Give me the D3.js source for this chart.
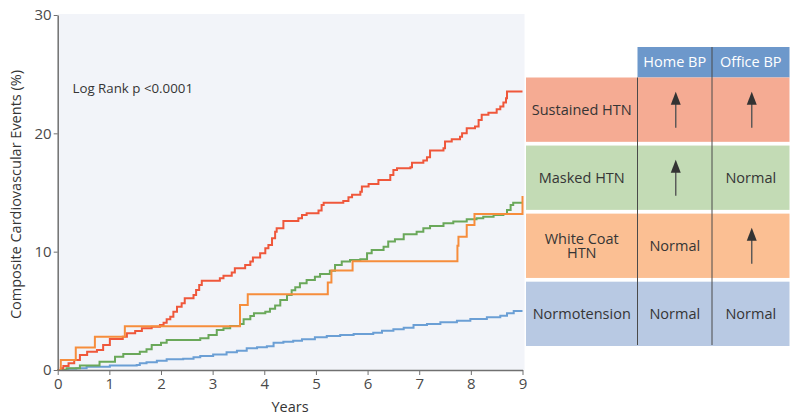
<!DOCTYPE html>
<html>
<head>
<meta charset="utf-8">
<script src="https://cdn.jsdelivr.net/npm/d3@7"></script>
<style>
  html, body { margin: 0; padding: 0; background: #fff; }
  svg { display: block; font-family: "Open Sans", "Noto Sans", sans-serif; }
</style>
</head>
<body>
<svg id="chart" width="799" height="419"></svg>
<script>
// ---- Data ----
const yTicks = [0, 10, 20, 30];
const xTicks = [0, 1, 2, 3, 4, 5, 6, 7, 8, 9];

const sustainedHTN = [[0,0],[0.06,0.15],[0.11,0.34],[0.21,0.56],[0.32,0.85],[0.43,1.27],[0.57,1.55],[0.76,1.69],[0.88,2.11],[1.01,2.62],[1.26,2.82],[1.34,3.1],[1.5,3.3],[1.63,3.52],[1.82,3.66],[1.98,3.8],[2.05,4.0],[2.11,4.28],[2.18,4.5],[2.24,4.93],[2.31,5.35],[2.4,5.64],[2.46,6.06],[2.63,6.34],[2.68,6.76],[2.74,7.18],[2.79,7.55],[3.14,7.75],[3.21,7.97],[3.37,8.23],[3.43,8.6],[3.63,8.88],[3.73,9.16],[3.78,9.5],[3.92,9.86],[4.02,10.29],[4.08,10.57],[4.15,11.13],[4.21,11.69],[4.24,11.98],[4.37,12.6],[4.66,12.82],[4.73,13.1],[4.82,13.25],[5.05,13.47],[5.11,13.95],[5.15,14.14],[5.53,14.29],[5.63,14.6],[5.7,14.8],[5.86,15.07],[5.89,15.5],[6.02,15.72],[6.21,16.06],[6.44,16.48],[6.5,16.9],[6.57,17.05],[6.83,17.13],[6.86,17.52],[7.08,17.7],[7.15,17.98],[7.21,18.54],[7.47,18.74],[7.5,19.3],[7.63,19.5],[7.79,19.72],[7.83,20.0],[7.92,20.43],[8.08,20.57],[8.15,21.13],[8.21,21.56],[8.34,21.75],[8.5,22.04],[8.57,22.26],[8.63,22.6],[8.68,22.97],[8.7,23.53],[9.0,23.53]];

const whiteCoatHTN = [[0,0],[0.06,0.85],[0.35,1.9],[0.72,2.8],[1.3,3.7],[3.53,5.5],[3.68,6.4],[5.23,7.4],[5.3,8.4],[5.71,9.2],[7.74,10.5],[7.76,11.27],[7.92,12.26],[8.07,13.19],[9.0,14.7]];

const maskedHTN = [[0,0],[0.17,0.14],[0.43,0.37],[0.81,0.7],[1.11,1.13],[1.27,1.35],[1.59,1.55],[1.72,1.75],[1.82,2.11],[2.0,2.31],[2.11,2.54],[2.76,2.68],[2.92,2.96],[3.08,3.38],[3.21,3.52],[3.34,3.72],[3.53,3.89],[3.6,4.28],[3.73,4.56],[3.8,4.79],[4.02,4.93],[4.11,5.17],[4.21,5.45],[4.31,5.92],[4.44,6.34],[4.53,6.75],[4.6,6.99],[4.69,7.33],[4.82,7.61],[4.98,7.89],[5.08,8.11],[5.27,8.39],[5.37,8.88],[5.5,9.16],[5.66,9.3],[5.86,9.36],[5.99,9.86],[6.08,10.14],[6.31,10.42],[6.4,10.85],[6.53,11.05],[6.7,11.47],[6.95,11.69],[7.08,11.98],[7.21,12.17],[7.47,12.4],[7.66,12.54],[7.92,12.74],[8.11,12.82],[8.24,12.96],[8.44,13.1],[8.63,13.19],[8.7,13.53],[8.77,13.95],[8.82,14.14],[9.0,14.14]];

const normotension = [[0,0],[0.2,0.1],[0.36,0.14],[0.56,0.28],[1.01,0.37],[1.53,0.42],[1.59,0.56],[1.72,0.65],[1.92,0.79],[2.11,0.9],[2.43,0.96],[2.63,1.07],[2.76,1.18],[3.01,1.32],[3.27,1.49],[3.47,1.63],[3.66,1.83],[3.86,1.92],[4.05,2.0],[4.18,2.31],[4.37,2.39],[4.56,2.48],[4.73,2.59],[4.98,2.76],[5.21,2.87],[5.47,2.96],[5.73,3.04],[6.11,3.15],[6.28,3.32],[6.5,3.44],[6.7,3.58],[6.89,3.8],[7.15,3.89],[7.41,4.03],[7.73,4.17],[7.99,4.31],[8.31,4.45],[8.57,4.59],[8.7,4.79],[8.83,4.99],[9.0,4.99]];

// Legend table
const groups = ["Sustained HTN", "Masked HTN", "White Coat HTN", "Normotension"];
const groupLines = [["Sustained HTN"], ["Masked HTN"], ["White Coat", "HTN"], ["Normotension"]];
const columns = ["Home BP", "Office BP"];
const homeBP = ["up", "up", "Normal", "Normal"];
const officeBP = ["up", "Normal", "up", "Normal"];

// ---- Styles ----
const lineColors = { sustained: "#ef573b", white: "#f68d3c", masked: "#6aa85a", normo: "#6b9fd5" };
const rowColors = ["#f5ab93", "#c3dbb5", "#fbbf93", "#b8c9e3"];
const headerColor = "#6d98cb";
const textColor = "#353535";

const svg = d3.select("#chart");

const x = d3.scaleLinear().domain([0, 9]).range([57.7, 522.5]);
const y = d3.scaleLinear().domain([0, 30]).range([370, 15]);

// plot background
svg.append("rect")
  .attr("x", x(0)).attr("y", y(30) - 1)
  .attr("width", 524.5 - x(0)).attr("height", y(0) - y(30) + 1)
  .attr("fill", "#f2f4f9");

// lines
const line = d3.line().x(d => x(d[0])).y(d => y(d[1])).curve(d3.curveStepAfter);
const series = [
  { data: normotension, color: lineColors.normo },
  { data: maskedHTN, color: lineColors.masked },
  { data: sustainedHTN, color: lineColors.sustained },
  { data: whiteCoatHTN, color: lineColors.white }
];
svg.append("g").selectAll("path").data(series).join("path")
  .attr("d", d => line(d.data))
  .attr("fill", "none")
  .attr("stroke", d => d.color)
  .attr("stroke-width", 2)
  .attr("stroke-linejoin", "miter");

// axes
const axisColor = "#707070";
const gy = svg.append("g").attr("transform", `translate(${x(0)},0)`)
  .call(d3.axisLeft(y).tickValues(yTicks).tickSize(4).tickPadding(2).tickSizeOuter(0));
const gx = svg.append("g").attr("transform", `translate(0,${y(0)})`)
  .call(d3.axisBottom(x).tickValues(xTicks).tickSize(5).tickPadding(3).tickSizeOuter(0));
[gx, gy].forEach(g => {
  g.select(".domain").attr("stroke", axisColor).attr("stroke-width", 1.5);
  g.selectAll(".tick line").attr("stroke", axisColor);
  g.selectAll(".tick text").attr("fill", "#4a4a4a")
    .style("font-size", "15px").style("font-family", "'Open Sans', sans-serif");
});

// axis titles
svg.append("text")
  .attr("transform", `translate(21,${(y(0) + y(30)) / 2 + 2}) rotate(-90)`)
  .attr("text-anchor", "middle")
  .attr("fill", textColor)
  .style("font-size", "14.5px")
  .text("Composite Cardiovascular Events (%)");
svg.append("text")
  .attr("x", 290).attr("y", 412)
  .attr("text-anchor", "middle")
  .attr("fill", textColor)
  .style("font-size", "14.5px")
  .text("Years");

svg.append("text")
  .attr("x", 72.5).attr("y", 93)
  .attr("fill", textColor)
  .style("font-size", "13.3px")
  .text("Log Rank p <0.0001");

// ---- Legend table ----
const colX = [526, 637.5, 712, 789.5];  // boundaries: label | home | office
const headerTop = 47, headerBottom = 77.5;
const rowBand = d3.scaleBand().domain(groups).range([77.5, 346]).paddingInner(0.055).paddingOuter(0);
const table = svg.append("g");

// header cells
columns.forEach((c, i) => {
  table.append("rect")
    .attr("x", colX[i + 1]).attr("y", headerTop)
    .attr("width", colX[i + 2] - colX[i + 1]).attr("height", headerBottom - headerTop)
    .attr("fill", headerColor);
  table.append("text")
    .attr("x", (colX[i + 1] + colX[i + 2]) / 2).attr("y", (headerTop + headerBottom) / 2)
    .attr("dy", "0.36em").attr("text-anchor", "middle")
    .attr("fill", "#fff").style("font-size", "14.5px")
    .text(c);
});

// rows
groups.forEach((g, i) => {
  const y0 = rowBand(g), h = rowBand.bandwidth();
  table.append("rect")
    .attr("x", colX[0]).attr("y", y0)
    .attr("width", colX[3] - colX[0]).attr("height", h)
    .attr("fill", rowColors[i]);
  const cy = y0 + h / 2;
  const words = groupLines[i];
  const lh = 14;
  words.forEach((w, k) => {
    table.append("text")
      .attr("x", (colX[0] + colX[1]) / 2)
      .attr("y", cy + (k - (words.length - 1) / 2) * lh)
      .attr("dy", "0.36em")
      .attr("text-anchor", "middle").attr("fill", textColor)
      .style("font-size", "14.5px")
      .text(w);
  });
  [homeBP[i], officeBP[i]].forEach((v, j) => {
    const cx = (colX[j + 1] + colX[j + 2]) / 2 + 1;
    if (v === "up") {
      const top = cy - 18, bottom = cy + 18;
      table.append("line")
        .attr("x1", cx).attr("x2", cx).attr("y1", top + 11).attr("y2", bottom)
        .attr("stroke", "#555").attr("stroke-width", 1.4);
      table.append("path")
        .attr("d", `M${cx},${top} L${cx - 5},${top + 13} L${cx + 5},${top + 13} Z`)
        .attr("fill", "#333");
    } else {
      table.append("text")
        .attr("x", cx - 1).attr("y", cy).attr("dy", "0.36em")
        .attr("text-anchor", "middle").attr("fill", textColor).style("font-size", "14.5px")
        .text(v);
    }
  });
});

// column dividers
[colX[1], colX[2]].forEach((cx, i) => {
  table.append("line")
    .attr("x1", cx).attr("x2", cx)
    .attr("y1", i === 0 ? headerBottom : headerTop).attr("y2", 345)
    .attr("stroke", "#4a4a4a").attr("stroke-width", 1);
});
</script>
</body>
</html>
